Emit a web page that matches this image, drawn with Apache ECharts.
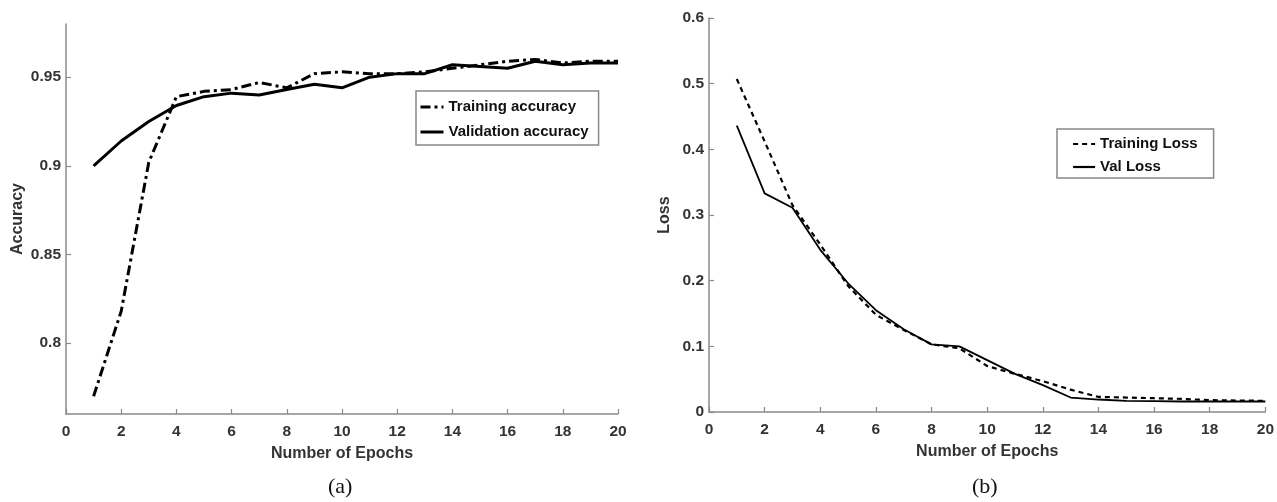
<!DOCTYPE html>
<html>
<head>
<meta charset="utf-8">
<title>Accuracy and Loss</title>
<script src="https://cdn.jsdelivr.net/npm/echarts@6.0.0/dist/echarts.min.js"></script>
<style>
    html, body { margin: 0; padding: 0; background: #fff; }
    #chart { width: 1277px; height: 502px; }
</style>
</head>
<body>
<div id="chart"></div>
<script>
// epochs on the x axis
var epochs = [1, 2, 3, 4, 5, 6, 7, 8, 9, 10, 11, 12, 13, 14, 15, 16, 17, 18, 19, 20];
var xTicks = [0, 2, 4, 6, 8, 10, 12, 14, 16, 18, 20];

// (a) accuracy
var trainAcc = [0.770, 0.818, 0.902, 0.939, 0.942, 0.943, 0.947, 0.944, 0.952, 0.953,
                0.952, 0.952, 0.953, 0.955, 0.957, 0.959, 0.960, 0.958, 0.959, 0.959];
var valAcc   = [0.900, 0.914, 0.925, 0.934, 0.939, 0.941, 0.940, 0.943, 0.946, 0.944,
                0.950, 0.952, 0.952, 0.957, 0.956, 0.955, 0.959, 0.957, 0.958, 0.958];
var accTicks = [0.8, 0.85, 0.9, 0.95];

// (b) loss
var trainLoss = [0.507, 0.412, 0.315, 0.255, 0.192, 0.148, 0.125, 0.103, 0.097, 0.070,
                 0.058, 0.047, 0.034, 0.023, 0.022, 0.021, 0.020, 0.018, 0.0175, 0.017];
var valLoss   = [0.436, 0.333, 0.311, 0.247, 0.196, 0.155, 0.126, 0.103, 0.100, 0.079,
                 0.058, 0.041, 0.022, 0.019, 0.017, 0.0165, 0.016, 0.016, 0.016, 0.016];
var lossTicks = [0, 0.1, 0.2, 0.3, 0.4, 0.5, 0.6];

var FONT = 'Liberation Sans, Arial, sans-serif';
var AXIS_GREY = '#8a8a8a';
var TEXT_GREY = '#333';

/**
 * 把两个数组拼成 [x, y] 点
 */
var toPoints = function(xs, ys){
    var pts = [];
    for (var i = 0; i < xs.length; i++) {
        pts.push([xs[i], ys[i]]);
    }
    return pts;
};

var xAxisFor = function(gridIndex){
    return {
        type: 'value',
        gridIndex: gridIndex,
        min: 0,
        max: 20,
        interval: 2,
        name: 'Number of Epochs',
        nameLocation: 'middle',
        nameGap: 32,
        nameTextStyle: { fontFamily: FONT, fontWeight: 'bold', fontSize: 16, color: TEXT_GREY },
        axisLine: { lineStyle: { color: AXIS_GREY, width: 1.5 } },
        axisTick: { inside: true, length: 5, lineStyle: { color: AXIS_GREY, width: 1.2 }, customValues: xTicks },
        axisLabel: { margin: 10, fontFamily: FONT, fontWeight: 'bold', fontSize: 15.5, color: TEXT_GREY, customValues: xTicks },
        splitLine: { show: false }
    };
};

var yAxisFor = function(gridIndex, name, min, max, ticks, gap){
    return {
        type: 'value',
        gridIndex: gridIndex,
        min: min,
        max: max,
        name: name,
        nameLocation: 'middle',
        nameGap: gap,
        nameTextStyle: { fontFamily: FONT, fontWeight: 'bold', fontSize: 16, color: TEXT_GREY },
        axisLine: { show: true, lineStyle: { color: AXIS_GREY, width: 1.5 } },
        axisTick: { show: true, inside: true, length: 5, lineStyle: { color: AXIS_GREY, width: 1.2 }, customValues: ticks },
        axisLabel: { margin: 5, fontFamily: FONT, fontWeight: 'bold', fontSize: 15.5, color: TEXT_GREY, customValues: ticks },
        splitLine: { show: false }
    };
};

var lineSeries = function(name, idx, data, width, dash){
    return {
        name: name,
        type: 'line',
        xAxisIndex: idx,
        yAxisIndex: idx,
        data: toPoints(epochs, data),
        symbol: 'none',
        color: '#000',
        itemStyle: { color: '#000' },
        animation: false,
        lineStyle: { color: '#000', width: width, type: dash }
    };
};

var legendStyle = { fontFamily: FONT, fontWeight: 'bold', fontSize: 15, color: '#111', lineHeight: 16 };

var option = {
    backgroundColor: '#fff',
    animation: false,
    grid: [
        { left: 66, top: 24, right: 659, bottom: 88 },
        { left: 709, top: 18, right: 11, bottom: 90 }
    ],
    xAxis: [xAxisFor(0), xAxisFor(1)],
    yAxis: [
        yAxisFor(0, 'Accuracy', 0.76, 0.98, accTicks, 40),
        yAxisFor(1, 'Loss', 0, 0.6, lossTicks, 36)
    ],
    legend: [
        {
            data: ['Training accuracy', 'Validation accuracy'],
            orient: 'vertical',
            left: 416,
            top: 91,
            padding: [8, 10, 5, 3],
            itemGap: 9,
            itemWidth: 23,
            itemHeight: 14,
            itemStyle: { opacity: 0 },
            lineStyle: { width: 3 },
            borderColor: '#888',
            borderWidth: 1.5,
            textStyle: legendStyle
        },
        {
            data: ['Training Loss', 'Val Loss'],
            orient: 'vertical',
            left: 1057,
            top: 129,
            padding: [7, 16, 3, 15],
            itemGap: 7,
            itemWidth: 22,
            itemHeight: 14,
            itemStyle: { opacity: 0 },
            lineStyle: { width: 2.2 },
            borderColor: '#888',
            borderWidth: 1.5,
            textStyle: legendStyle
        }
    ],
    series: [
        lineSeries('Training accuracy', 0, trainAcc, 3, [10, 4, 3, 4]),
        lineSeries('Validation accuracy', 0, valAcc, 3, 'solid'),
        lineSeries('Training Loss', 1, trainLoss, 2.2, [5, 4]),
        lineSeries('Val Loss', 1, valLoss, 1.8, 'solid')
    ],
    graphic: [
        { type: 'text', left: 328, top: 476, style: { text: '(a)', font: '22px "Liberation Serif", "Times New Roman", serif', fill: '#111' } },
        { type: 'text', left: 972, top: 476, style: { text: '(b)', font: '22px "Liberation Serif", "Times New Roman", serif', fill: '#111' } }
    ]
};

var chart = echarts.init(document.getElementById('chart'));
chart.setOption(option);
</script>
</body>
</html>
